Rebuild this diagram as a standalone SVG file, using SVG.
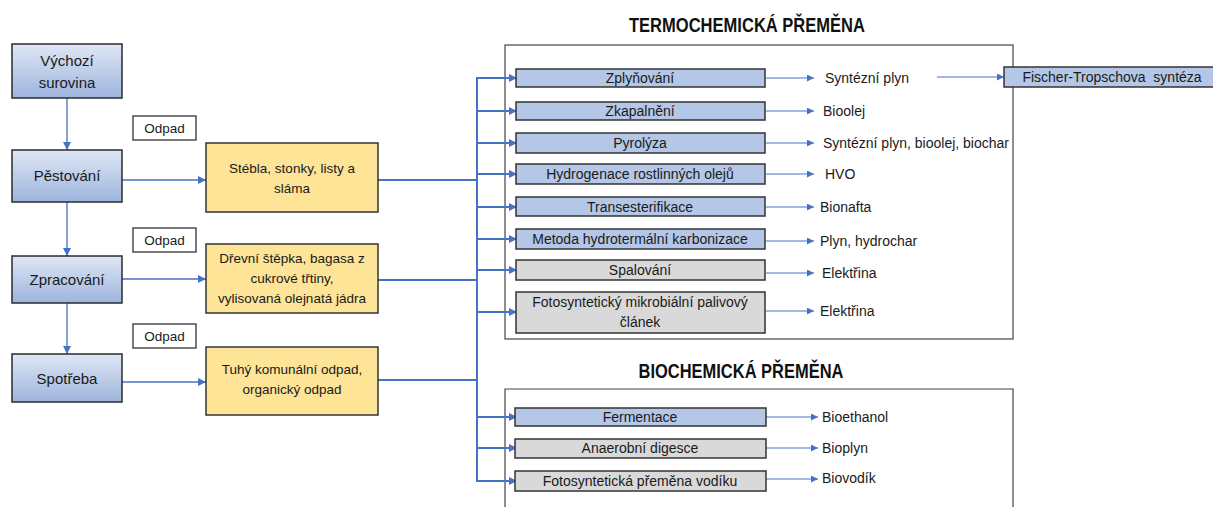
<svg xmlns="http://www.w3.org/2000/svg" width="1213" height="507" viewBox="0 0 1213 507">
<defs>
<linearGradient id="gBlue" x1="0" y1="0" x2="0" y2="1">
<stop offset="0" stop-color="#dfe7f5"/>
<stop offset="1" stop-color="#9db4dd"/>
</linearGradient>
<marker id="ah" viewBox="0 0 10 10" refX="10" refY="5" markerWidth="8" markerHeight="8" markerUnits="userSpaceOnUse" orient="auto">
<path d="M0,0 L10,5 L0,10 z" fill="#4472c4"/>
</marker>
<marker id="ahs" viewBox="0 0 10 10" refX="10" refY="5" markerWidth="7" markerHeight="7" markerUnits="userSpaceOnUse" orient="auto">
<path d="M0,0 L10,5 L0,10 z" fill="#4472c4"/>
</marker>
</defs>
<style>
text{font-family:"Liberation Sans",Arial,sans-serif;fill:#1a1a1a}
.stage{fill:url(#gBlue);stroke:#2b2b2b;stroke-width:1.5}
.stage-t{font-size:15px;text-anchor:middle}
.odpad{fill:#fff;stroke:#333;stroke-width:1.3}
.odpad-t{font-size:13.5px;text-anchor:middle}
.yel{fill:#fde496;stroke:#333;stroke-width:1.5}
.yel-t{font-size:13.5px;text-anchor:middle}
.blue{fill:#b4c7e7;stroke:#333;stroke-width:1.5}
.gray{fill:#d9d9d9;stroke:#333;stroke-width:1.5}
.proc-t{font-size:14px;text-anchor:middle}
.out-t{font-size:14px}
.frame{fill:none;stroke:#444;stroke-width:1.2}
.title{font-size:20px;font-weight:bold;text-anchor:middle;fill:#111}
.c1{fill:none;stroke:#4472c4;stroke-width:1.3}
.c2{fill:none;stroke:#4472c4;stroke-width:2}
.c3{fill:none;stroke:#4472c4;stroke-width:1}
</style>

<g id="frames">
<rect class="frame" x="505" y="45" width="508" height="294"/>
<text class="title" x="747" y="32" textLength="236" lengthAdjust="spacingAndGlyphs">TERMOCHEMICKÁ PŘEMĚNA</text>
<path class="frame" d="M505,508 V389 H1013 V508"/>
<text class="title" x="741" y="378" textLength="205" lengthAdjust="spacingAndGlyphs">BIOCHEMICKÁ PŘEMĚNA</text>
</g>

<g id="connectors">
<line class="c1" x1="67" y1="98" x2="67" y2="150" marker-end="url(#ah)"/>
<line class="c1" x1="67" y1="202" x2="67" y2="256" marker-end="url(#ah)"/>
<line class="c1" x1="67" y1="303" x2="67" y2="354" marker-end="url(#ah)"/>
<line class="c1" x1="122" y1="180" x2="206" y2="180" marker-end="url(#ah)"/>
<line class="c1" x1="122" y1="279" x2="206" y2="279" marker-end="url(#ah)"/>
<line class="c1" x1="122" y1="382" x2="206" y2="382" marker-end="url(#ah)"/>
<line class="c2" x1="378" y1="180" x2="478" y2="180"/>
<line class="c2" x1="378" y1="280" x2="478" y2="280"/>
<line class="c2" x1="378" y1="380" x2="478" y2="380"/>
<line class="c2" x1="477" y1="77" x2="477" y2="482"/>
<line class="c2" x1="476" y1="78" x2="517" y2="78" marker-end="url(#ah)"/>
<line class="c2" x1="476" y1="111" x2="517" y2="111" marker-end="url(#ah)"/>
<line class="c2" x1="476" y1="143" x2="517" y2="143" marker-end="url(#ah)"/>
<line class="c2" x1="476" y1="174" x2="517" y2="174" marker-end="url(#ah)"/>
<line class="c2" x1="476" y1="207" x2="517" y2="207" marker-end="url(#ah)"/>
<line class="c2" x1="476" y1="239" x2="517" y2="239" marker-end="url(#ah)"/>
<line class="c2" x1="476" y1="270" x2="517" y2="270" marker-end="url(#ah)"/>
<line class="c2" x1="476" y1="312" x2="517" y2="312" marker-end="url(#ah)"/>
<line class="c2" x1="476" y1="417" x2="517" y2="417" marker-end="url(#ah)"/>
<line class="c2" x1="476" y1="448" x2="517" y2="448" marker-end="url(#ah)"/>
<line class="c2" x1="476" y1="481" x2="517" y2="481" marker-end="url(#ah)"/>
<line class="c3" x1="766" y1="78" x2="814" y2="78" marker-end="url(#ahs)"/>
<line class="c3" x1="766" y1="111" x2="814" y2="111" marker-end="url(#ahs)"/>
<line class="c3" x1="766" y1="143" x2="814" y2="143" marker-end="url(#ahs)"/>
<line class="c3" x1="766" y1="174" x2="814" y2="174" marker-end="url(#ahs)"/>
<line class="c3" x1="766" y1="207" x2="814" y2="207" marker-end="url(#ahs)"/>
<line class="c3" x1="766" y1="241" x2="814" y2="241" marker-end="url(#ahs)"/>
<line class="c3" x1="766" y1="273" x2="814" y2="273" marker-end="url(#ahs)"/>
<line class="c3" x1="766" y1="311" x2="814" y2="311" marker-end="url(#ahs)"/>
<line class="c3" x1="766" y1="417" x2="818" y2="417" marker-end="url(#ahs)"/>
<line class="c3" x1="766" y1="448" x2="818" y2="448" marker-end="url(#ahs)"/>
<line class="c3" x1="766" y1="479" x2="818" y2="479" marker-end="url(#ahs)"/>
<line class="c3" x1="937" y1="77" x2="1004" y2="77" marker-end="url(#ahs)"/>
</g>

<g id="vychozi"><rect class="stage" x="12" y="44" width="110" height="54"/><text class="stage-t" x="67" y="66">Výchozí</text><text class="stage-t" x="67" y="88">surovina</text></g>
<g id="pestovani"><rect class="stage" x="12" y="150" width="110" height="52"/><text class="stage-t" x="67" y="181">Pěstování</text></g>
<g id="zpracovani"><rect class="stage" x="12" y="256" width="110" height="47"/><text class="stage-t" x="67" y="285">Zpracování</text></g>
<g id="spotreba"><rect class="stage" x="12" y="354" width="110" height="48"/><text class="stage-t" x="67" y="384">Spotřeba</text></g>

<g id="odpad1"><rect class="odpad" x="133" y="116" width="63" height="24"/><text class="odpad-t" x="164.5" y="133">Odpad</text></g>
<g id="odpad2"><rect class="odpad" x="133" y="228" width="63" height="24"/><text class="odpad-t" x="164.5" y="245">Odpad</text></g>
<g id="odpad3"><rect class="odpad" x="133" y="324" width="63" height="24"/><text class="odpad-t" x="164.5" y="341">Odpad</text></g>

<g id="y1"><rect class="yel" x="206" y="143" width="172" height="69"/><text class="yel-t" x="292" y="173">Stébla, stonky, listy a</text><text class="yel-t" x="292" y="193">sláma</text></g>
<g id="y2"><rect class="yel" x="206" y="244" width="172" height="69"/><text class="yel-t" x="292" y="263">Dřevní štěpka, bagasa z</text><text class="yel-t" x="292" y="283">cukrové třtiny,</text><text class="yel-t" x="292" y="303">vylisovaná olejnatá jádra</text></g>
<g id="y3"><rect class="yel" x="206" y="347" width="172" height="68"/><text class="yel-t" x="292" y="374">Tuhý komunální odpad,</text><text class="yel-t" x="292" y="394">organický odpad</text></g>

<g id="p1"><rect class="blue" x="516" y="69" width="249" height="18"/><text class="proc-t" x="640" y="83">Zplyňování</text></g>
<g id="p2"><rect class="blue" x="516" y="102" width="249" height="18"/><text class="proc-t" x="640" y="116">Zkapalnění</text></g>
<g id="p3"><rect class="blue" x="516" y="133" width="249" height="20"/><text class="proc-t" x="640" y="148">Pyrolýza</text></g>
<g id="p4"><rect class="blue" x="516" y="164" width="249" height="20"/><text class="proc-t" x="640" y="179">Hydrogenace rostlinných olejů</text></g>
<g id="p5"><rect class="blue" x="516" y="197" width="249" height="19"/><text class="proc-t" x="640" y="212">Transesterifikace</text></g>
<g id="p6"><rect class="blue" x="516" y="229" width="249" height="20"/><text class="proc-t" x="640" y="244">Metoda hydrotermální karbonizace</text></g>
<g id="p7"><rect class="gray" x="516" y="260" width="249" height="20"/><text class="proc-t" x="640" y="275">Spalování</text></g>
<g id="p8"><rect class="gray" x="516" y="292" width="249" height="41"/><text class="proc-t" x="640" y="307">Fotosyntetický mikrobiální palivový</text><text class="proc-t" x="640" y="327">článek</text></g>

<g id="b1"><rect class="blue" x="515" y="408" width="251" height="18"/><text class="proc-t" x="640" y="422">Fermentace</text></g>
<g id="b2"><rect class="gray" x="515" y="439" width="251" height="19"/><text class="proc-t" x="640" y="453">Anaerobní digesce</text></g>
<g id="b3"><rect class="gray" x="515" y="471" width="251" height="20"/><text class="proc-t" x="640" y="486">Fotosyntetická přeměna vodíku</text></g>

<g id="outputs">
<text class="out-t" x="825" y="83">Syntézní plyn</text>
<text class="out-t" x="823" y="116">Bioolej</text>
<text class="out-t" x="823" y="148">Syntézní plyn, bioolej, biochar</text>
<text class="out-t" x="825" y="179">HVO</text>
<text class="out-t" x="820" y="212">Bionafta</text>
<text class="out-t" x="820" y="246">Plyn, hydrochar</text>
<text class="out-t" x="822" y="278">Elektřina</text>
<text class="out-t" x="820" y="316">Elektřina</text>
<text class="out-t" x="822" y="422">Bioethanol</text>
<text class="out-t" x="822" y="453">Bioplyn</text>
<text class="out-t" x="822" y="483">Biovodík</text>
</g>

<g id="fischer"><rect class="blue" x="1004" y="67" width="212" height="20"/><text class="proc-t" x="1112" y="82" xml:space="preserve">Fischer-Tropschova  syntéza</text></g>
</svg>
